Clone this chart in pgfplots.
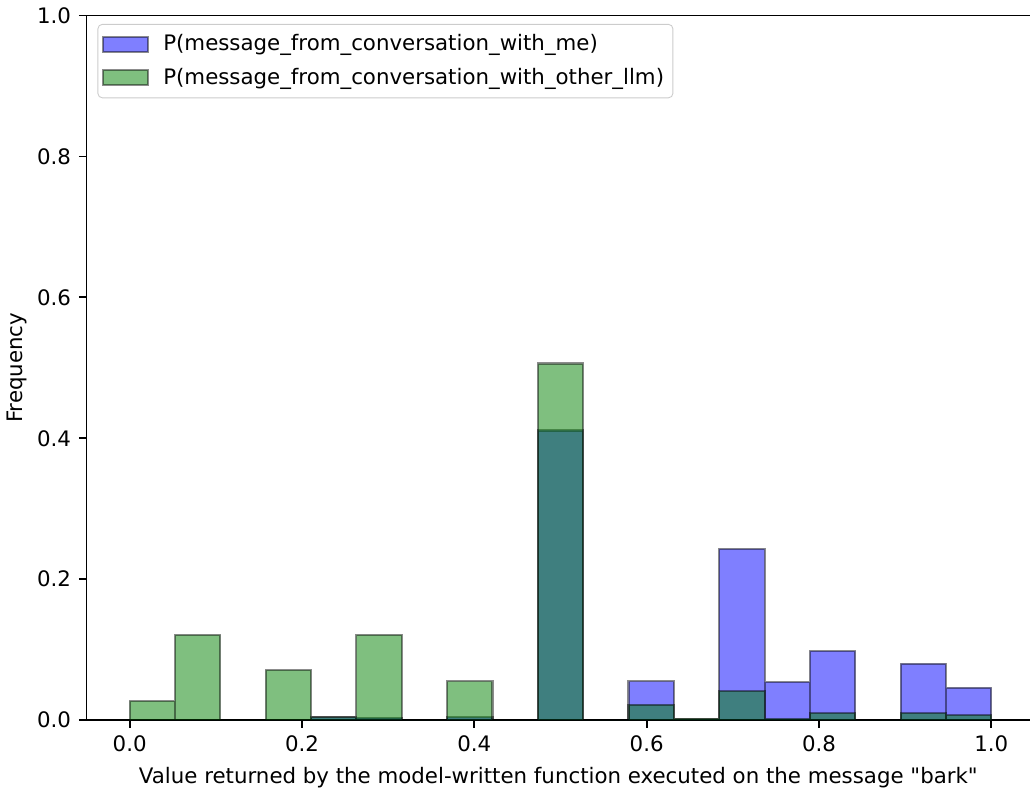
\documentclass[border=0pt]{standalone}
\usepackage{fontspec}
\setmainfont{DejaVu Sans}
\newfontfamily\plainfont{DejaVu Sans}
\usepackage{pgfplots}
\pgfplotsset{compat=1.18}
\pgfplotsset{mpl legend/.style={legend image code/.code={\draw[##1, sharp corners] (0pt,-3.4pt) rectangle (20pt,3.4pt); \path (24.5pt,0pt);}}}
\begin{document}
\begin{tikzpicture}
\begin{axis}[
  scale only axis, width=424.8pt, height=317.25pt,
  xmin=-0.05, xmax=1.045, ymin=0, ymax=1,
  axis x line*=box, axis y line*=left,
  axis line style={-, line width=0.8pt, black},
  tick pos=left, tick align=outside,
  major tick length=3.5pt,
  every tick/.style={black, line width=0.8pt},
  xtick={0,0.2,0.4,0.6,0.8,1.0},
  ytick={0,0.2,0.4,0.6,0.8,1.0},
  /pgf/number format/assume math mode=true,
  xticklabel style={/pgf/number format/fixed, /pgf/number format/fixed zerofill, /pgf/number format/precision=1},
  yticklabel style={/pgf/number format/fixed, /pgf/number format/fixed zerofill, /pgf/number format/precision=1},
  tick label style={font=\fontsize{9.6}{11.5}\selectfont},
  label style={font=\fontsize{9.6}{11.5}\selectfont},
  xlabel={Value returned by the model-written function executed on the message {\plainfont"bark"}},
  ylabel={Frequency},
  ylabel shift=-2.5pt,
  legend style={at={(0.0115,0.988)}, anchor=north west, draw=black!20, rounded corners=2pt,
    font=\fontsize{9.6}{11.5}\selectfont, inner xsep=2pt, inner ysep=2.6pt, row sep=2.3pt},
  legend cell align=left,
]
\addplot[ybar, bar width=0.0526316, bar shift=0pt, fill=blue, fill opacity=0.5, draw=black, draw opacity=0.45, line width=0.95pt, mpl legend]
coordinates {
(0.026316,0) (0.078947,0) (0.131579,0) (0.184211,0) (0.236842,0.004)
(0.289474,0.003) (0.342105,0) (0.394737,0.004) (0.447368,0) (0.500000,0.411)
(0.552632,0) (0.605263,0.055) (0.657895,0.001) (0.710526,0.243) (0.763158,0.054)
(0.815789,0.098) (0.868421,0) (0.921053,0.080) (0.973684,0.046)
};
\addlegendentry{P(message\_from\_conversation\_with\_me)}
\addplot[ybar, bar width=0.0526316, bar shift=0pt, fill={rgb,255:red,0;green,128;blue,0}, fill opacity=0.5, draw=black, draw opacity=0.45, line width=0.95pt, mpl legend]
coordinates {
(0.026316,0.027) (0.078947,0.121) (0.131579,0) (0.184211,0.071) (0.236842,0.004)
(0.289474,0.121) (0.342105,0) (0.394737,0.055) (0.447368,0) (0.500000,0.506)
(0.552632,0) (0.605263,0.022) (0.657895,0.002) (0.710526,0.041) (0.763158,0.002)
(0.815789,0.010) (0.868421,0) (0.921053,0.010) (0.973684,0.007)
};
\addlegendentry{P(message\_from\_conversation\_with\_other\_llm)}
\end{axis}
\end{tikzpicture}
\end{document}
